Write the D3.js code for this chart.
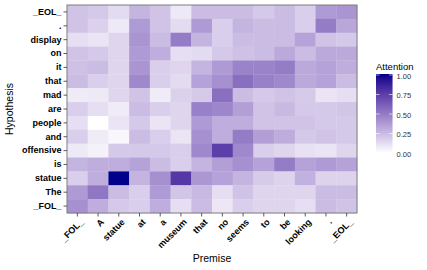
<!DOCTYPE html>
<html><head><meta charset="utf-8">
<script src="https://cdn.jsdelivr.net/npm/d3@7"></script>
<style>body{margin:0;background:#fff}svg{display:block}text{font-family:"Liberation Sans",Arial,sans-serif}</style>
</head><body><svg id="c" width="427" height="270"></svg>
<script>
const premise = ["_FOL_","A","statue","at","a","museum","that","no","seems","to","be","looking",".","_EOL_"];
const hypothesis = ["_EOL_",".","display","on","it","that","mad","are","people","and","offensive","is","statue","The","_FOL_"];
const attention = [
  [0.22,0.20,0.13,0.28,0.22,0.08,0.25,0.25,0.25,0.20,0.25,0.18,0.38,0.40],
  [0.22,0.17,0.08,0.38,0.22,0.13,0.38,0.18,0.28,0.25,0.25,0.18,0.50,0.33],
  [0.12,0.10,0.15,0.40,0.25,0.50,0.28,0.18,0.25,0.25,0.25,0.35,0.22,0.20],
  [0.22,0.20,0.15,0.38,0.30,0.12,0.13,0.20,0.23,0.25,0.32,0.25,0.32,0.32],
  [0.23,0.25,0.15,0.40,0.18,0.15,0.28,0.38,0.47,0.47,0.50,0.32,0.35,0.30],
  [0.25,0.18,0.15,0.45,0.18,0.13,0.35,0.42,0.55,0.48,0.45,0.32,0.35,0.25],
  [0.07,0.08,0.15,0.22,0.07,0.17,0.20,0.55,0.25,0.20,0.22,0.20,0.10,0.12],
  [0.18,0.12,0.07,0.25,0.18,0.15,0.48,0.46,0.36,0.22,0.26,0.20,0.20,0.21],
  [0.12,0.00,0.10,0.20,0.10,0.15,0.38,0.30,0.30,0.22,0.22,0.22,0.20,0.20],
  [0.18,0.07,0.03,0.25,0.18,0.10,0.42,0.30,0.50,0.36,0.31,0.20,0.22,0.20],
  [0.08,0.05,0.20,0.20,0.20,0.18,0.45,0.75,0.45,0.18,0.15,0.11,0.10,0.15],
  [0.28,0.30,0.30,0.35,0.25,0.18,0.28,0.36,0.42,0.35,0.50,0.35,0.38,0.35],
  [0.18,0.30,1.00,0.28,0.42,0.78,0.39,0.35,0.28,0.19,0.16,0.29,0.16,0.16],
  [0.38,0.52,0.25,0.18,0.38,0.21,0.26,0.12,0.22,0.15,0.15,0.15,0.25,0.25],
  [0.42,0.30,0.20,0.18,0.30,0.12,0.25,0.09,0.18,0.15,0.15,0.12,0.25,0.22]
];
const legendTicks = [0, 0.25, 0.5, 0.75, 1];

const svg = d3.select("#c");
const L = 67, R = 357, T = 5, B = 213;
const x = d3.scaleBand().domain(premise).range([L, R]);
const y = d3.scaleBand().domain(hypothesis).range([T, B]);
const color = d3.scaleSequential(d3.interpolateLab("#ffffff", "#00008b")).domain([0, 1]);

const cells = [];
hypothesis.forEach((h, i) => premise.forEach((p, j) => cells.push({h, p, v: attention[i][j]})));
svg.append("g").selectAll("rect").data(cells).join("rect")
  .attr("x", d => x(d.p)).attr("y", d => y(d.h))
  .attr("width", x.bandwidth()+0.3).attr("height", y.bandwidth()+0.3)
  .attr("fill", d => color(d.v));

svg.append("rect").attr("x", L).attr("y", T).attr("width", R-L).attr("height", B-T)
  .attr("fill", "none").attr("stroke", "#7f7f7f").attr("stroke-width", 1);

const yAx = svg.append("g").attr("transform", `translate(${L},0)`)
  .call(d3.axisLeft(y).tickSize(3.5).tickPadding(2));
const xAx = svg.append("g").attr("transform", `translate(0,${B})`)
  .call(d3.axisBottom(x).tickSize(3.5).tickFormat(""));
[yAx, xAx].forEach(a => {
  a.select(".domain").remove();
  a.selectAll(".tick line").attr("stroke", "#333").attr("stroke-width", 0.8);
});
yAx.selectAll(".tick text").attr("fill", "#000").style("font-size", "9px").style("font-weight", "bold");

svg.append("g").selectAll("text").data(premise).join("text")
  .attr("x", 0).attr("y", 0)
  .style("transform-origin", "0 0")
  .style("transform", d => `translate(${x(d) + x.bandwidth()/2 + 2}px, ${B + 5}px) rotate(-45deg)`)
  .attr("text-anchor", "end").attr("dy", "0.72em")
  .style("font-size", "9px").style("font-weight", "bold").attr("fill", "#000")
  .text(d => d);

svg.append("text").attr("x", (L+R)/2).attr("y", 262).attr("text-anchor", "middle")
  .style("font-size", "10.5px").attr("fill", "#000").text("Premise");
svg.append("text").attr("transform", `translate(13,${(T+B)/2}) rotate(-90)`).attr("text-anchor", "middle")
  .style("font-size", "10.5px").attr("fill", "#000").text("Hypothesis");

// legend
const lg = svg.append("g");
const ly = d3.scaleLinear().domain([0, 1]).range([153, 75]);
const bx = 376, bw = 16.5;
const steps = d3.range(0, 80);
lg.selectAll("rect.s").data(steps).join("rect").attr("class", "s")
  .attr("x", bx).attr("width", bw)
  .attr("y", i => 74 + i).attr("height", 1.2)
  .attr("fill", i => color(Math.max(0, Math.min(1, ly.invert(74 + i + 0.5)))));
lg.selectAll("g.t").data(legendTicks).join("g").attr("class", "t").each(function(d) {
  const g = d3.select(this);
  g.append("line").attr("x1", bx).attr("x2", bx+3.5).attr("y1", ly(d)).attr("y2", ly(d)).attr("stroke", "#fff").attr("stroke-width", 0.6);
  g.append("line").attr("x1", bx+bw-3.5).attr("x2", bx+bw).attr("y1", ly(d)).attr("y2", ly(d)).attr("stroke", "#fff").attr("stroke-width", 0.6);
});
lg.selectAll("text.l").data(legendTicks).join("text").attr("class", "l")
  .attr("x", 396.5).attr("y", d => ly(d) + 1).attr("dy", "0.35em")
  .style("font-size", "7.5px").attr("fill", "#333").text(d => d.toFixed(2));
lg.append("text").attr("x", 376).attr("y", 70).style("font-size", "9.5px").attr("fill", "#000").text("Attention");
</script></body></html>
